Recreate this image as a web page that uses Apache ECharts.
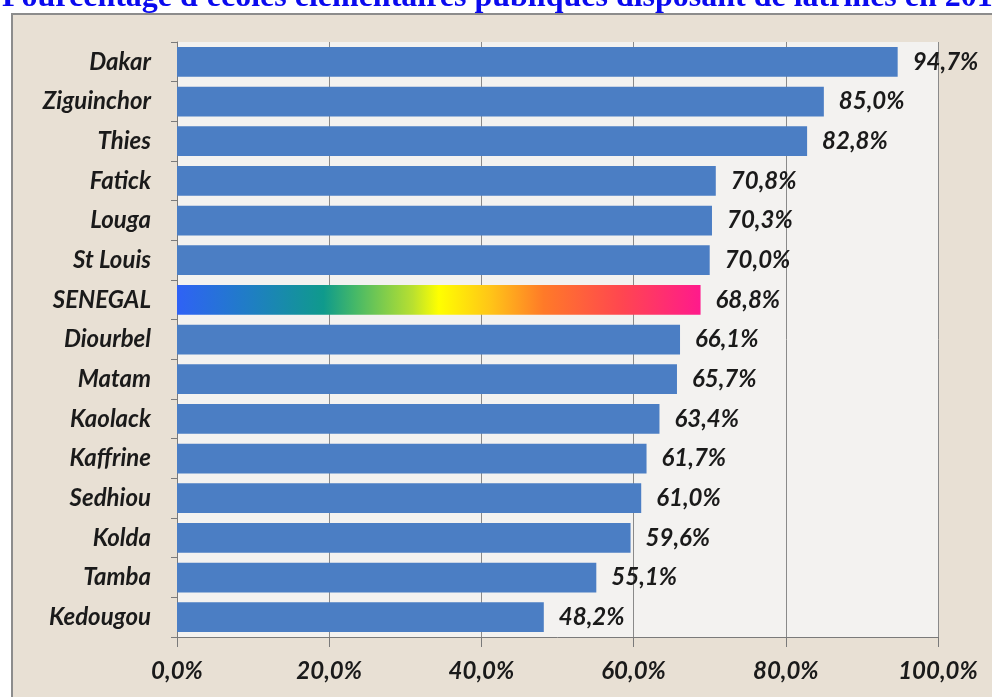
<!DOCTYPE html>
<html>
<head>
<meta charset="utf-8">
<script src="https://cdn.jsdelivr.net/npm/echarts@6/dist/echarts.min.js"></script>
<style>html,body{margin:0;padding:0;background:#fff;}#c{width:992px;height:697px;}</style>
</head>
<body>
<div id="c"></div>
<script>
const titleText = "Pourcentage d'écoles élémentaires publiques disposant de latrines en 201";
const categories = ["Dakar","Ziguinchor","Thies","Fatick","Louga","St Louis","SENEGAL","Diourbel","Matam","Kaolack","Kaffrine","Sedhiou","Kolda","Tamba","Kedougou"];
const values = [94.7,85.0,82.8,70.8,70.3,70.0,68.8,66.1,65.7,63.4,61.7,61.0,59.6,55.1,48.2];
const highlight = "SENEGAL";

const font = "Lato";
const chart = echarts.init(document.getElementById('c'));
const gradient = new echarts.graphic.LinearGradient(0,0,1,0,[
  {offset:0, color:'#2f62f5'},
  {offset:0.15, color:'#1e80c0'},
  {offset:0.28, color:'#0f9a8c'},
  {offset:0.34, color:'#45b868'},
  {offset:0.45, color:'#b8e030'},
  {offset:0.5, color:'#ffff00'},
  {offset:0.6, color:'#ffc418'},
  {offset:0.7, color:'#ff7a28'},
  {offset:0.85, color:'#ff4650'},
  {offset:1, color:'#ff1a8c'}
]);
chart.setOption({
  animation:false,
  backgroundColor:'#ffffff',
  graphic:[
    {type:'rect', z:-10, shape:{x:12, y:14, width:1000, height:700}, style:{fill:'#e8e0d4', stroke:'#8c8c8c', lineWidth:2}},
    {type:'text', z:10, x:2, y:14, style:{text:titleText, font:'bold 32px "Liberation Serif"', fill:'#0a0aee', verticalAlign:'bottom', align:'left'}}
  ],
  grid:{left:177, right:54, top:42, bottom:60, show:true, backgroundColor:'#f3f2f0', borderWidth:0},
  xAxis:{
    type:'value', min:0, max:100, interval:20,
    axisLine:{show:true, lineStyle:{color:'#7a7a7a'}},
    axisTick:{show:true, length:10, lineStyle:{color:'#7a7a7a'}},
    splitLine:{show:true, lineStyle:{color:'#8a8a8a', width:1}},
    axisLabel:{margin:22, formatter:v=>v.toFixed(1).replace('.',',')+'%', fontFamily:font, fontWeight:'bold', fontStyle:'italic', fontSize:24, color:'#1a1a1a'}
  },
  yAxis:{
    type:'category', data:categories, inverse:true,
    axisLine:{show:true, lineStyle:{color:'#7a7a7a'}},
    axisTick:{show:true, length:6, lineStyle:{color:'#7a7a7a'}},
    axisLabel:{margin:26, fontFamily:font, fontWeight:'bold', fontStyle:'italic', fontSize:24, color:'#1a1a1a'}
  },
  series:[{
    type:'bar',
    data:values.map((v,i)=>categories[i]===highlight?{value:v, itemStyle:{color:gradient}}:v),
    barCategoryGap:'25%',
    itemStyle:{color:'#4b7ec4'},
    label:{show:true, position:'right', distance:15, formatter:p=>p.value.toFixed(1).replace('.',',')+'%', fontFamily:font, fontWeight:'bold', fontStyle:'italic', fontSize:24, color:'#1a1a1a'}
  }]
});
</script>
</body>
</html>
